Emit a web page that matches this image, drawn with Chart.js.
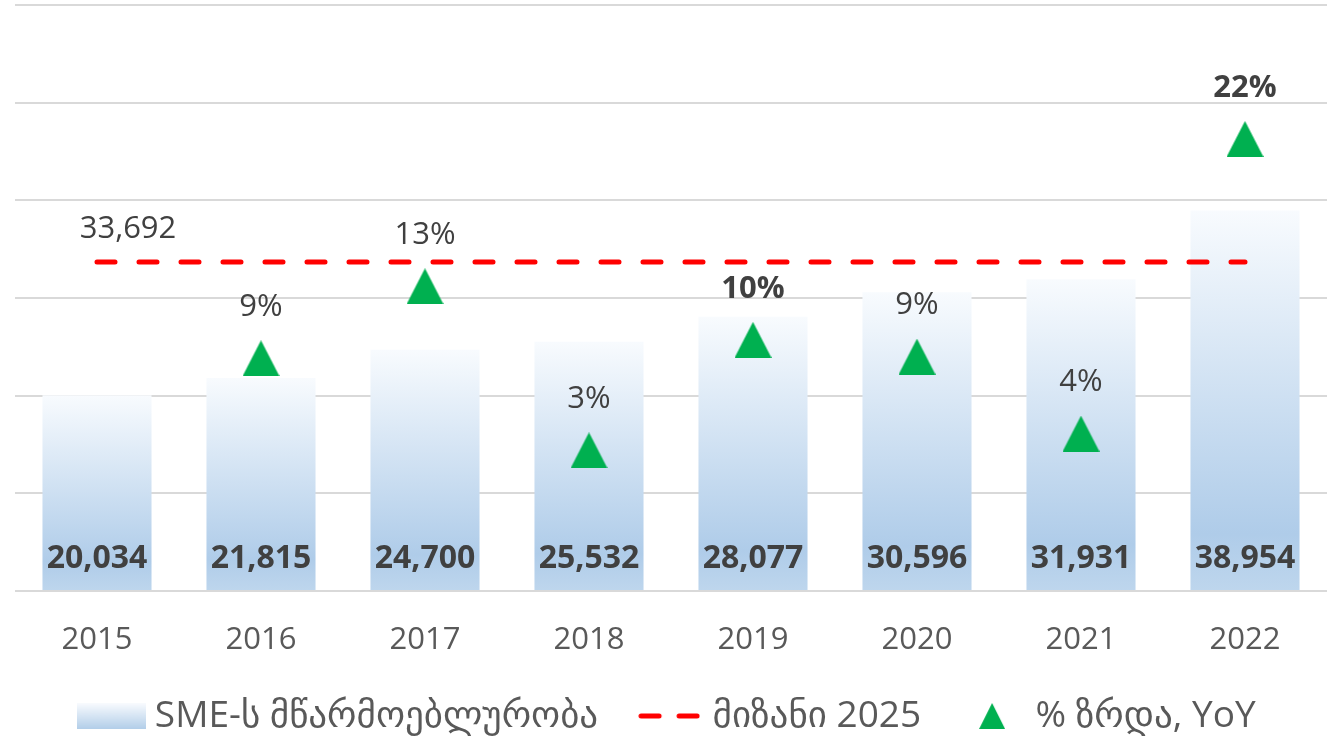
<!DOCTYPE html>
<html>
<head>
<meta charset="utf-8">
<script src="https://cdn.jsdelivr.net/npm/chart.js@4.4.1/dist/chart.umd.min.js"></script>
<style>
  body { margin: 0; background: #fff; }
  canvas { display: block; }
</style>
</head>
<body>
<canvas id="smeChart" width="1327" height="737"></canvas>
<script>
const years = ['2015', '2016', '2017', '2018', '2019', '2020', '2021', '2022'];
const productivity = [20034, 21815, 24700, 25532, 28077, 30596, 31931, 38954];
const target2025 = [33692, 33692, 33692, 33692, 33692, 33692, 33692, 33692];
const growthPct = [null, 8.9, 13.2, 3.4, 10.0, 9.0, 4.4, 22.0];
const seriesNames = ['SME-ს მწარმოებლურობა', 'მიზანი 2025', '% ზრდა, YoY'];

const FONT = "'Open Sans', 'DejaVu Sans', sans-serif";
const boldGrowth = ['2019', '2022'];

function triangle(w, h, color) {
    const c = document.createElement('canvas');
    c.width = w; c.height = h;
    const g = c.getContext('2d');
    g.fillStyle = color;
    g.beginPath();
    g.moveTo(w / 2, 0);
    g.lineTo(w, h);
    g.lineTo(0, h);
    g.closePath();
    g.fill();
    return c;
}

function barSwatch(w, h) {
    const c = document.createElement('canvas');
    c.width = w; c.height = h;
    const g = c.getContext('2d');
    const grad = g.createLinearGradient(0, 0, 0, h);
    grad.addColorStop(0, '#f9fbfe');
    grad.addColorStop(1, '#b2cee9');
    g.fillStyle = grad;
    g.fillRect(0, 0, w, h);
    return c;
}

function dashSwatch(w, h) {
    const c = document.createElement('canvas');
    c.width = w; c.height = h;
    const g = c.getContext('2d');
    g.strokeStyle = '#ff0000';
    g.lineWidth = 5;
    g.lineCap = 'round';
    g.beginPath();
    g.moveTo(3, h / 2); g.lineTo(21, h / 2);
    g.moveTo(41, h / 2); g.lineTo(59, h / 2);
    g.stroke();
    return c;
}

const markerTri = triangle(37, 36, '#00b050');
const legendIcons = [barSwatch(69, 26), dashSwatch(62, 6), triangle(26, 26, '#00b050')];

// labels drawn on top of the marks
const dataLabels = {
    id: 'dataLabels',
    afterDatasetsDraw(chart) {
        const ctx = chart.ctx;
        const base = chart.scales.y.getPixelForValue(0);
        ctx.save();
        ctx.fillStyle = '#404040';
        ctx.textAlign = 'center';
        ctx.textBaseline = 'middle';

        ctx.font = 'bold 32px ' + FONT;
        chart.getDatasetMeta(0).data.forEach((bar, i) => {
            ctx.fillText(productivity[i].toLocaleString('en-US'), bar.x, base - 32);
        });

        const first = chart.getDatasetMeta(1).data[0];
        ctx.font = '31px ' + FONT;
        ctx.fillText(target2025[0].toLocaleString('en-US'), first.x + 31, first.y - 33);

        chart.getDatasetMeta(2).data.forEach((pt, i) => {
            if (growthPct[i] == null) return;
            ctx.font = (boldGrowth.includes(years[i]) ? 'bold ' : '') + '31px ' + FONT;
            ctx.fillText(Math.round(growthPct[i]) + '%', pt.x, pt.y - 51);
        });
        ctx.restore();
    }
};

new Chart(document.getElementById('smeChart'), {
    data: {
        labels: years,
        datasets: [{
            type: 'bar',
            label: seriesNames[0],
            data: productivity,
            yAxisID: 'y',
            order: 3,
            categoryPercentage: 1,
            barPercentage: 0.665,
            backgroundColor(c) {
                const chart = c.chart;
                if (!chart.chartArea || c.raw == null) return '#c9dcf0';
                const ys = chart.scales.y;
                const top = ys.getPixelForValue(c.raw);
                const bottom = ys.getPixelForValue(0);
                const grad = chart.ctx.createLinearGradient(0, top, 0, bottom);
                grad.addColorStop(0, '#f8fbfe');
                grad.addColorStop(0.85, '#afcce9');
                grad.addColorStop(1, '#bed6ed');
                return grad;
            }
        }, {
            type: 'line',
            label: seriesNames[1],
            data: target2025,
            yAxisID: 'y',
            order: 2,
            borderColor: '#ff0000',
            borderWidth: 5,
            borderDash: [18, 24],
            borderCapStyle: 'round',
            pointRadius: 0,
            fill: false
        }, {
            type: 'line',
            label: seriesNames[2],
            data: growthPct,
            yAxisID: 'y1',
            order: 1,
            showLine: false,
            pointStyle: markerTri,
            pointRadius: 18
        }]
    },
    options: {
        responsive: false,
        animation: false,
        events: [],
        layout: { autoPadding: false, padding: { left: 15, right: 0, top: 5, bottom: -7.5 } },
        scales: {
            x: {
                grid: { display: false },
                border: { display: false },
                ticks: { color: '#595959', font: { family: FONT, size: 31 }, padding: 23 },
                afterFit(scale) { scale.height = 60.5; }
            },
            y: {
                min: 0,
                max: 60000,
                ticks: { display: false, stepSize: 10000 },
                border: { display: false },
                grid: { color: '#d9d9d9', lineWidth: 2, drawTicks: false }
            },
            y1: {
                display: false,
                min: -5,
                max: 30
            }
        },
        plugins: {
            tooltip: { enabled: false },
            legend: {
                position: 'bottom',
                labels: {
                    usePointStyle: true,
                    pointStyleWidth: 50,
                    boxHeight: 26,
                    padding: 46,
                    color: '#595959',
                    font: { family: FONT, size: 37 },
                    generateLabels: () => seriesNames.map((text, i) => ({
                        text,
                        datasetIndex: i,
                        pointStyle: legendIcons[i],
                        fontColor: '#595959',
                        fillStyle: 'transparent',
                        strokeStyle: 'transparent',
                        lineWidth: 0,
                        hidden: false
                    }))
                }
            }
        }
    },
    plugins: [dataLabels]
});
</script>
</body>
</html>
